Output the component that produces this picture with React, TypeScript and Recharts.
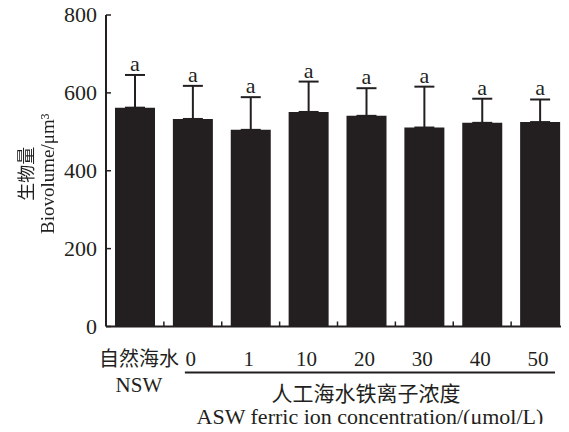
import React from 'react';
import { ComposedChart, Bar, ErrorBar, Scatter, XAxis, YAxis } from 'recharts';

const categories = ['NSW', '0', '1', '10', '20', '30', '40', '50'];
const biovolume = [562, 533, 505, 551, 541, 511, 523, 525];
const sdUpper = [84, 85, 84, 78, 71, 105, 62, 58];
const letters = ['a', 'a', 'a', 'a', 'a', 'a', 'a', 'a'];
const yTicks = [0, 200, 400, 600, 800];

const data = categories.map((name, i) => ({
  name,
  value: biovolume[i],
  err: [0, sdUpper[i]],
  top: biovolume[i] + sdUpper[i],
  letter: letters[i],
}));

const ink = '#231f20';
const serif = '"Liberation Serif", "Times New Roman", "Noto Sans CJK SC", serif';

const XTick = (props: any) => {
  const { x, y, payload, index } = props;
  const half = payload && payload.offset ? payload.offset : 0;
  return (
    <g>
      {index < categories.length - 1 && (
        <line x1={x + half} x2={x + half} y1={y} y2={y - 5} stroke={ink} strokeWidth={1.5} />
      )}
      {index === 0 ? (
        <g>
          <text x={x + 4} y={y + 39} textAnchor="middle" fontSize={20} fill={ink} fontFamily={serif}>自然海水</text>
          <text x={x + 4} y={y + 65} textAnchor="middle" fontSize={21} fill={ink} fontFamily={serif}>NSW</text>
        </g>
      ) : (
        <text x={x - 2} y={y + 39} textAnchor="middle" fontSize={21} fill={ink} fontFamily={serif}>{payload.value}</text>
      )}
    </g>
  );
};

const YTick = (props: any) => {
  const { x, y, payload } = props;
  return (
    <g>
      <line x1={x} x2={x + 5} y1={y} y2={y} stroke={ink} strokeWidth={1.5} />
      <text x={x - 9} y={y + 7} textAnchor="end" fontSize={22} fill={ink} fontFamily={serif}>{payload.value}</text>
    </g>
  );
};

const XGroupLabel = (props: any) => {
  const { viewBox } = props;
  const band = viewBox.width / categories.length;
  const x1 = viewBox.x + band + 21;
  const x2 = viewBox.x + viewBox.width - 14;
  const cx = (x1 + x2) / 2;
  return (
    <g>
      <line x1={x1} x2={x2} y1={viewBox.y + 46} y2={viewBox.y + 46} stroke={ink} strokeWidth={2} />
      <text x={cx - 4} y={viewBox.y + 74} textAnchor="middle" fontSize={21} fill={ink} fontFamily={serif}>人工海水铁离子浓度</text>
      <text x={cx} y={viewBox.y + 97} textAnchor="middle" fontSize={22} fill={ink} fontFamily={serif}>ASW ferric ion concentration/(μmol/L)</text>
    </g>
  );
};

const YTitle = (props: any) => {
  const { viewBox } = props;
  const cy = viewBox.y + viewBox.height / 2 + 3;
  // rotated text picks up colour fringes; a desaturate filter keeps it gray
  return (
    <g>
      <defs>
        <filter id="gray-title" x="-10%" y="-10%" width="120%" height="120%">
          <feColorMatrix type="saturate" values="0" />
        </filter>
      </defs>
      <g filter="url(#gray-title)">
        <g transform="rotate(-90)">
          <text x={-cy} y={33} textAnchor="middle" fontSize={18} fill={ink} fontFamily={serif}>生物量</text>
          <text x={-cy} y={54} textAnchor="middle" fontSize={19} fill={ink} fontFamily={serif}>Biovolume/μm³</text>
        </g>
      </g>
    </g>
  );
};

const LetterMark = (props: any) => {
  const { cx, cy, payload } = props;
  return (
    <text x={cx} y={cy - 4} textAnchor="middle" fontSize={22} fill={ink} fontFamily={serif}>{payload.letter}</text>
  );
};

const App = () => {
  return (
    <div style={{ margin: -8, width: 569, height: 432, background: '#fff' }}>
      <ComposedChart width={569} height={432} data={data} margin={{ top: 15, right: 0, bottom: 0, left: 0 }}>
        <XAxis
          dataKey="name"
          height={105.5}
          interval={0}
          tickLine={false}
          tickSize={0}
          tickMargin={0}
          axisLine={{ stroke: ink, strokeWidth: 2 }}
          tick={<XTick />}
          label={<XGroupLabel />}
        />
        <YAxis
          width={106}
          domain={[0, 800]}
          ticks={yTicks}
          tickLine={false}
          tickSize={0}
          tickMargin={0}
          axisLine={{ stroke: ink, strokeWidth: 2 }}
          tick={<YTick />}
          label={<YTitle />}
        />
        <Bar dataKey="value" fill={ink} barSize={40} isAnimationActive={false}>
          <ErrorBar dataKey="err" direction="y" width={10} stroke={ink} strokeWidth={2} />
        </Bar>
        <Scatter dataKey="top" shape={<LetterMark />} isAnimationActive={false} />
      </ComposedChart>
    </div>
  );
};

export default App;
